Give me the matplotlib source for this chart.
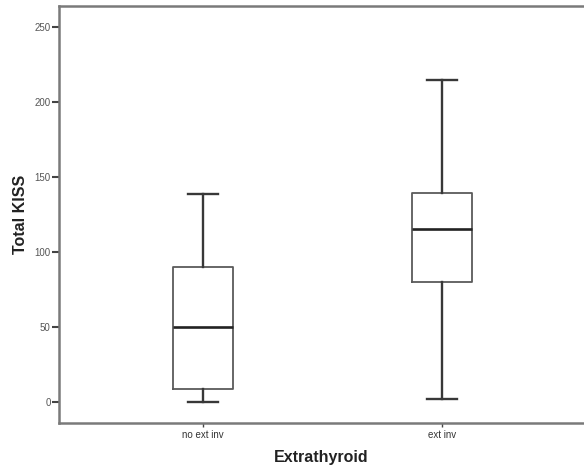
import matplotlib
matplotlib.use("Agg")
import matplotlib.pyplot as plt

plt.rcParams["font.family"] = ["Liberation Sans", "DejaVu Sans"]

# summary values
groups = ["no ext inv", "ext inv"]
whisker_low = [0, 2]
q1 = [9, 80.5]
median = [50, 115.5]
q3 = [90.5, 139.5]
whisker_high = [139, 215]
yticks = [0, 50, 100, 150, 200, 250]

stats = []
for i, g in enumerate(groups):
    stats.append({"label": g, "whislo": whisker_low[i], "q1": q1[i], "med": median[i],
                  "q3": q3[i], "whishi": whisker_high[i], "fliers": []})

fig = plt.figure(figsize=(5.84, 4.70), dpi=100)
ax = fig.add_axes([0.101, 0.099, 0.899, 0.888])

ax.bxp(stats, positions=[1, 2], widths=0.25, showfliers=False,
       boxprops=dict(color="#5a5a5a", linewidth=1.3),
       medianprops=dict(color="#222222", linewidth=1.9),
       whiskerprops=dict(color="#383838", linewidth=1.7),
       capprops=dict(color="#383838", linewidth=1.7),
       capwidths=0.125)

ax.set_xlim(0.397, 2.594)
ax.set_ylim(-14, 264)
ax.set_yticks(yticks)
ax.set_xticks([1, 2])
ax.set_xticklabels(groups)

for s in ["top", "left", "bottom"]:
    ax.spines[s].set_color("#7a7a7a")
    ax.spines[s].set_linewidth(1.8)
ax.spines["right"].set_visible(False)

ax.tick_params(axis="y", length=5, width=1.5, color="#444444", labelsize=7,
               labelcolor="#555555", pad=1)
ax.tick_params(axis="x", length=3, width=1.0, color="#444444", labelsize=7,
               labelcolor="#333333", pad=2)

ax.set_ylabel("Total KISS", fontsize=11.5, fontweight="bold", color="#222222", labelpad=5)
ax.set_xlabel("Extrathyroid", fontsize=11.5, fontweight="bold", color="#222222", labelpad=7)

fig.savefig("out.png", dpi=100)
